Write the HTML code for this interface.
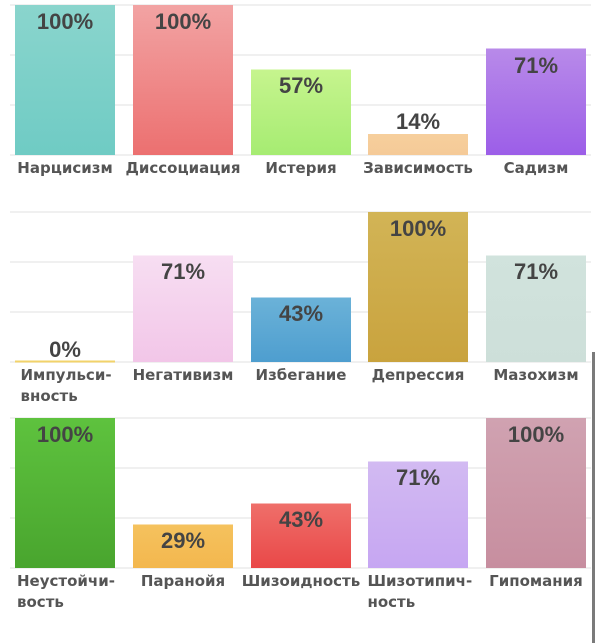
<!DOCTYPE html>
<html><head><meta charset="utf-8">
<style>
html,body{margin:0;padding:0;background:#fff;}
svg{display:block;}
.p{font-family:"Liberation Sans",sans-serif;font-weight:bold;font-size:22px;fill:#444;text-anchor:middle;}
.l{font-family:"DejaVu Sans",sans-serif;font-weight:bold;font-size:15px;fill:#555;text-anchor:middle;}
.ls{font-family:"DejaVu Sans",sans-serif;font-weight:bold;font-size:15px;fill:#555;text-anchor:start;}
.g{stroke:#ececec;stroke-width:1.5;}
</style></head>
<body>
<svg width="600" height="643" viewBox="0 0 600 643" xmlns="http://www.w3.org/2000/svg">
<defs>
<linearGradient id="c1" x1="0" y1="0" x2="0" y2="1"><stop offset="0" stop-color="#8ad5cd"/><stop offset="1" stop-color="#6fcbc4"/></linearGradient>
<linearGradient id="c2" x1="0" y1="0" x2="0" y2="1"><stop offset="0" stop-color="#f2a3a3"/><stop offset="1" stop-color="#ec7070"/></linearGradient>
<linearGradient id="c3" x1="0" y1="0" x2="0" y2="1"><stop offset="0" stop-color="#c6f48e"/><stop offset="1" stop-color="#a6ec72"/></linearGradient>
<linearGradient id="c4" x1="0" y1="0" x2="0" y2="1"><stop offset="0" stop-color="#f6cf9c"/><stop offset="1" stop-color="#f5ca98"/></linearGradient>
<linearGradient id="c5" x1="0" y1="0" x2="0" y2="1"><stop offset="0" stop-color="#b88ae9"/><stop offset="1" stop-color="#9c5ee8"/></linearGradient>
<linearGradient id="c7" x1="0" y1="0" x2="0" y2="1"><stop offset="0" stop-color="#f7def2"/><stop offset="1" stop-color="#f2c6e8"/></linearGradient>
<linearGradient id="c8" x1="0" y1="0" x2="0" y2="1"><stop offset="0" stop-color="#6bb2d8"/><stop offset="1" stop-color="#4e9ecf"/></linearGradient>
<linearGradient id="c9" x1="0" y1="0" x2="0" y2="1"><stop offset="0" stop-color="#d2b456"/><stop offset="1" stop-color="#c9a33e"/></linearGradient>
<linearGradient id="c10" x1="0" y1="0" x2="0" y2="1"><stop offset="0" stop-color="#d1e3dd"/><stop offset="1" stop-color="#cddfd9"/></linearGradient>
<linearGradient id="c11" x1="0" y1="0" x2="0" y2="1"><stop offset="0" stop-color="#5ec23e"/><stop offset="1" stop-color="#49a52e"/></linearGradient>
<linearGradient id="c12" x1="0" y1="0" x2="0" y2="1"><stop offset="0" stop-color="#f5c25e"/><stop offset="1" stop-color="#f3b74e"/></linearGradient>
<linearGradient id="c13" x1="0" y1="0" x2="0" y2="1"><stop offset="0" stop-color="#ef6f6a"/><stop offset="1" stop-color="#e94848"/></linearGradient>
<linearGradient id="c14" x1="0" y1="0" x2="0" y2="1"><stop offset="0" stop-color="#d2baf2"/><stop offset="1" stop-color="#c6a6f2"/></linearGradient>
<linearGradient id="c15" x1="0" y1="0" x2="0" y2="1"><stop offset="0" stop-color="#d0a2b1"/><stop offset="1" stop-color="#c78e9f"/></linearGradient>
</defs>

<!-- Row 1 gridlines -->
<line class="g" x1="10" y1="5" x2="591" y2="5"/>
<line class="g" x1="10" y1="55" x2="591" y2="55"/>
<line class="g" x1="10" y1="105" x2="591" y2="105"/>
<line class="g" x1="10" y1="155" x2="591" y2="155"/>
<!-- Row 2 gridlines -->
<line class="g" x1="10" y1="212" x2="591" y2="212"/>
<line class="g" x1="10" y1="262" x2="591" y2="262"/>
<line class="g" x1="10" y1="312" x2="591" y2="312"/>
<line class="g" x1="10" y1="362" x2="591" y2="362"/>
<!-- Row 3 gridlines -->
<line class="g" x1="10" y1="418" x2="591" y2="418"/>
<line class="g" x1="10" y1="468" x2="591" y2="468"/>
<line class="g" x1="10" y1="518" x2="591" y2="518"/>
<line class="g" x1="10" y1="568" x2="591" y2="568"/>

<!-- Row 1 bars -->
<rect x="15" y="5" width="100" height="150" fill="url(#c1)"/>
<rect x="133" y="5" width="100" height="150" fill="url(#c2)"/>
<rect x="251" y="69.5" width="100" height="85.5" fill="url(#c3)"/>
<rect x="368" y="134" width="100" height="21" fill="url(#c4)"/>
<rect x="486" y="48.5" width="100" height="106.5" fill="url(#c5)"/>
<text class="p" x="65" y="29">100%</text>
<text class="p" x="183" y="29">100%</text>
<text class="p" x="301" y="93">57%</text>
<text class="p" x="418" y="129">14%</text>
<text class="p" x="536" y="73">71%</text>
<text class="l" x="65" y="173">Нарцисизм</text>
<text class="l" x="183" y="173">Диссоциация</text>
<text class="l" x="301" y="173">Истерия</text>
<text class="l" x="418" y="173">Зависимость</text>
<text class="l" x="536" y="173">Садизм</text>

<!-- Row 2 bars -->
<rect x="15" y="360.5" width="100" height="2" fill="#f2d36a"/>
<rect x="133" y="255.5" width="100" height="106.5" fill="url(#c7)"/>
<rect x="251" y="297.5" width="100" height="64.5" fill="url(#c8)"/>
<rect x="368" y="212" width="100" height="150" fill="url(#c9)"/>
<rect x="486" y="255.5" width="100" height="106.5" fill="url(#c10)"/>
<text class="p" x="65" y="357">0%</text>
<text class="p" x="183" y="279">71%</text>
<text class="p" x="301" y="321">43%</text>
<text class="p" x="418" y="236">100%</text>
<text class="p" x="536" y="279">71%</text>
<text class="ls" x="20.5" y="380">Импульси-</text>
<text class="ls" x="20.5" y="401">вность</text>
<text class="l" x="183" y="380">Негативизм</text>
<text class="l" x="301" y="380">Избегание</text>
<text class="l" x="418" y="380">Депрессия</text>
<text class="l" x="536" y="380">Мазохизм</text>

<!-- Row 3 bars -->
<rect x="15" y="418" width="100" height="150" fill="url(#c11)"/>
<rect x="133" y="524.5" width="100" height="43.5" fill="url(#c12)"/>
<rect x="251" y="503.5" width="100" height="64.5" fill="url(#c13)"/>
<rect x="368" y="461.5" width="100" height="106.5" fill="url(#c14)"/>
<rect x="486" y="418" width="100" height="150" fill="url(#c15)"/>
<text class="p" x="65" y="442">100%</text>
<text class="p" x="183" y="548">29%</text>
<text class="p" x="301" y="527">43%</text>
<text class="p" x="418" y="485">71%</text>
<text class="p" x="536" y="442">100%</text>
<text class="ls" x="17" y="586">Неустойчи-</text>
<text class="ls" x="17" y="607">вость</text>
<text class="l" x="183" y="586">Паранойя</text>
<text class="l" x="301" y="586">Шизоидность</text>
<text class="ls" x="367.5" y="586">Шизотипич-</text>
<text class="ls" x="367.5" y="607">ность</text>
<text class="l" x="536" y="586">Гипомания</text>

<!-- scrollbar -->
<rect x="592" y="352" width="3" height="291" fill="#7a7a7a"/>
</svg>
</body></html>
